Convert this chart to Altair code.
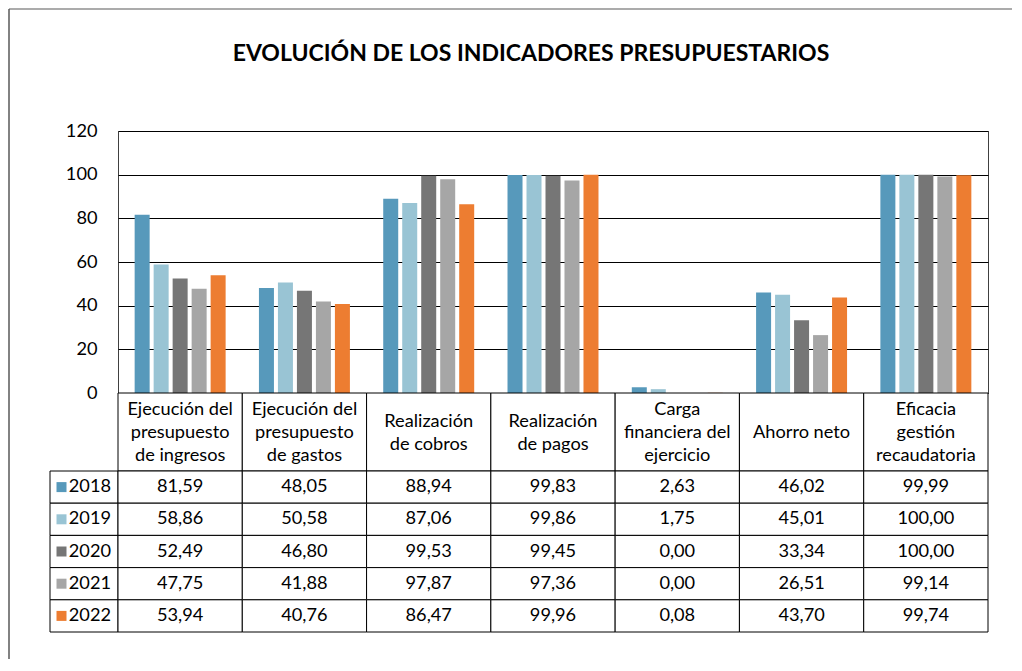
import altair as alt
import pandas as pd

years = ["2018", "2019", "2020", "2021", "2022"]
categories = [
    "Ejecución del\npresupuesto\nde ingresos",
    "Ejecución del\npresupuesto\nde gastos",
    "Realización\nde cobros",
    "Realización\nde pagos",
    "Carga\nfinanciera del\nejercicio",
    "Ahorro neto",
    "Eficacia\ngestión\nrecaudatoria",
]
values_2018 = [81.59, 48.05, 88.94, 99.83, 2.63, 46.02, 99.99]
values_2019 = [58.86, 50.58, 87.06, 99.86, 1.75, 45.01, 100.00]
values_2020 = [52.49, 46.80, 99.53, 99.45, 0.00, 33.34, 100.00]
values_2021 = [47.75, 41.88, 97.87, 97.36, 0.00, 26.51, 99.14]
values_2022 = [53.94, 40.76, 86.47, 99.96, 0.08, 43.70, 99.74]
colors = ["#5799BB", "#99C4D4", "#767676", "#A6A6A6", "#ED7D31"]
y_ticks = [0, 20, 40, 60, 80, 100, 120]
title_text = "EVOLUCIÓN DE LOS INDICADORES PRESUPUESTARIOS"

series = [values_2018, values_2019, values_2020, values_2021, values_2022]
rows = []
for yr, vals in zip(years, series):
    for cat, v in zip(categories, vals):
        rows.append({"cat": cat, "year": yr, "value": v,
                     "label": f"{v:.2f}".replace(".", ",")})
df = pd.DataFrame(rows)

# header lines: one row per text line, with a line position (centered block)
hrows = []
for cat in categories:
    lines = cat.split("\n")
    n = len(lines)
    for i, ln in enumerate(lines):
        hrows.append({"cat": cat, "line": ln, "pos": (n - 1) / 2 - i})
hdr_lines = pd.DataFrame(hrows)

FONT = "Lato"
FS = 18.2
LINE_H = 23
HEADER_H = 78
color_scale = alt.Scale(domain=years, range=colors)
no_view = alt.ViewBackground(strokeOpacity=0)

# ---- bar panel
bars = alt.Chart(df).mark_bar().encode(
    x=alt.X("cat:N", sort=categories, axis=None,
            scale=alt.Scale(paddingInner=0.268, paddingOuter=0.134)),
    xOffset=alt.XOffset("year:N", sort=years,
                        scale=alt.Scale(paddingInner=0.21, paddingOuter=0)),
    y=alt.Y("value:Q", scale=alt.Scale(domain=[0, 120], nice=False),
            axis=alt.Axis(values=y_ticks, title=None, grid=True, gridColor="black",
                          gridWidth=1, domain=False, ticks=False, labelPadding=21,
                          labelFontSize=FS, labelFont=FONT, labelColor="black")),
    color=alt.Color("year:N", scale=color_scale, legend=None),
)

bar_panel = bars.properties(
    width=870, height=262,
    view=alt.ViewBackground(stroke="#404040", strokeWidth=1),
    title=alt.TitleParams(title_text, font=FONT, fontSize=23, fontWeight="bold",
                          color="black", anchor="middle", dx=-22, offset=37,
                          baseline="alphabetic"),
)

# ---- header panel (category labels)
hdr = pd.DataFrame({"cat": categories})
x_tab = alt.X("cat:N", sort=categories, axis=None,
              scale=alt.Scale(paddingInner=0, paddingOuter=0))
half = HEADER_H / 2 / LINE_H
header_cells = alt.Chart(hdr).mark_rect(fill="white", stroke="black", strokeWidth=1).encode(x=x_tab)
header_text = alt.Chart(hdr_lines).mark_text(fontSize=FS, font=FONT, color="black", dy=1).encode(
    x=x_tab,
    y=alt.Y("pos:Q", axis=None, scale=alt.Scale(domain=[-half, half], nice=False, zero=False)),
    text="line:N")
header_panel = alt.layer(header_cells, header_text).properties(
    width=870, height=HEADER_H, view=no_view)

# ---- values panel
y_tab = alt.Y("year:N", sort=years, axis=None,
              scale=alt.Scale(paddingInner=0, paddingOuter=0))
val_cells = alt.Chart(df).mark_rect(fill="white", stroke="black", strokeWidth=1).encode(x=x_tab, y=y_tab)
val_text = alt.Chart(df).mark_text(fontSize=FS, font=FONT, color="black").encode(
    x=x_tab, y=y_tab, text="label:N")
values_panel = alt.layer(val_cells, val_text).properties(width=870, height=161, view=no_view)

# ---- legend column
leg = pd.DataFrame({"year": years})
leg_cells = alt.Chart(leg).mark_rect(fill="white", stroke="black", strokeWidth=1).encode(y=y_tab)
leg_sq = alt.Chart(leg).mark_square(size=100, filled=True, opacity=1).encode(
    x=alt.value(11.5), y=y_tab, color=alt.Color("year:N", scale=color_scale, legend=None))
leg_txt = alt.Chart(leg).mark_text(align="right", fontSize=FS, font=FONT, color="black").encode(
    x=alt.value(61), y=y_tab, text="year:N")
legend_panel = alt.layer(leg_cells, leg_sq, leg_txt).properties(width=68, height=161, view=no_view)

# ---- spacers (top-left one also carries the outer chart frame)
sp = pd.DataFrame({"t": [""]})
frame_df = pd.DataFrame({"k": [0]})
frame_left = alt.Chart(frame_df).mark_rule(color="#595959", strokeWidth=1.5).encode(
    x=alt.value(-41), y=alt.value(-122), y2=alt.value(528))
frame_top = alt.Chart(frame_df).mark_rule(color="#595959", strokeWidth=1.2).encode(
    x=alt.value(-41), x2=alt.value(962), y=alt.value(-122))
spacer_txt = alt.Chart(sp).mark_text().encode(text="t:N")
spacer_top = alt.layer(spacer_txt, frame_left, frame_top).properties(
    width=68, height=262, view=no_view)
spacer_mid = alt.Chart(sp).mark_text().encode(text="t:N").properties(
    width=68, height=HEADER_H, view=no_view)

chart = alt.concat(
    spacer_top, bar_panel,
    spacer_mid, header_panel,
    legend_panel, values_panel,
    columns=2, spacing=0, bounds="flush", align="each", padding=0,
).resolve_scale(x="independent", y="independent").configure(
    font=FONT, background="white"
).configure_view(stroke="transparent")

chart.save("out.html", embed_options={"renderer": "svg", "actions": False})
